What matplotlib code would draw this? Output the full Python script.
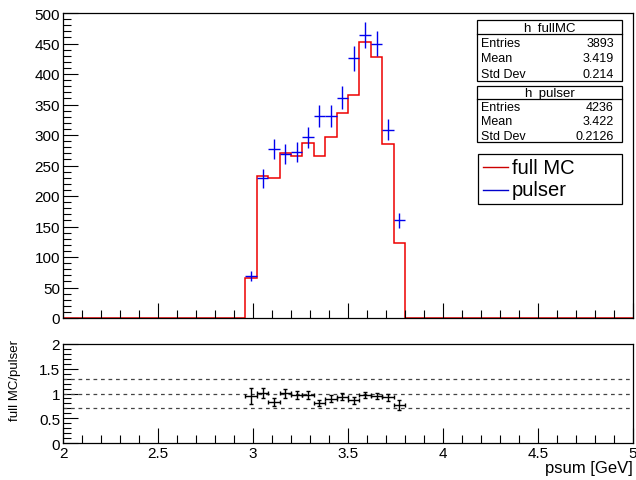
import numpy as np
import matplotlib
matplotlib.use('Agg')
import matplotlib.pyplot as plt
from matplotlib.patches import Rectangle
from matplotlib.lines import Line2D
from matplotlib.ticker import MultipleLocator, FormatStrFormatter

plt.rcParams['font.family'] = ['Liberation Sans', 'DejaVu Sans']

# histogram binning: 50 bins from 2 to 5 GeV, only bins 16..29 filled
edges = np.linspace(2.0, 5.0, 51)
first_bin = 16
full_mc = [65, 232, 229, 270, 265, 287, 266, 296, 336, 366, 452, 428, 285, 123]
pulser = [69, 229, 277, 269, 272, 296, 331, 331, 361, 426, 464, 450, 309, 160]

stats_mc = [("Entries", "3893"), ("Mean", "3.419"), ("Std Dev", "0.214")]
stats_pulser = [("Entries", "4236"), ("Mean", "3.422"), ("Std Dev", "0.2126")]

W, H = 636, 481


def fx(px):
    return px / W


def fy(py):
    return 1 - py / H


full_mc = np.array(full_mc, float)
pulser = np.array(pulser, float)
n = len(full_mc)
mc_all = np.zeros(len(edges) - 1)
mc_all[first_bin:first_bin + n] = full_mc
centers = 0.5 * (edges[first_bin:first_bin + n] + edges[first_bin + 1:first_bin + n + 1])
half_w = 0.5 * (edges[1] - edges[0])

fig = plt.figure(figsize=(W / 100, H / 100), dpi=100)
ax = fig.add_axes([fx(63), fy(319), fx(633) - fx(63), fy(14) - fy(319)])
axr = fig.add_axes([fx(63), fy(444), fx(633) - fx(63), fy(345) - fy(444)])

# main panel
ax.stairs(mc_all, edges, color='#ee0000', lw=1.1, baseline=0)
ax.errorbar(centers, pulser, xerr=half_w, yerr=np.sqrt(pulser), fmt='none',
            ecolor='#0000ee', elinewidth=1.0, capsize=0)
ax.set_xlim(2, 5)
ax.set_ylim(0, 500)
ax.yaxis.set_major_locator(MultipleLocator(50))
ax.yaxis.set_minor_locator(MultipleLocator(10))
ax.xaxis.set_major_locator(MultipleLocator(0.5))
ax.xaxis.set_minor_locator(MultipleLocator(0.1))
ax.tick_params(labelbottom=False)

# ratio panel
ratio = full_mc / pulser
ratio_err = ratio * np.sqrt(1 / full_mc + 1 / pulser)
for yv in (0.7, 1.0, 1.3):
    axr.axhline(yv, color='#444444', lw=0.9, dashes=(3, 3))
axr.errorbar(centers, ratio, xerr=half_w, yerr=ratio_err, fmt='none',
             ecolor='black', elinewidth=1.0, capsize=1.5, capthick=1.0)
axr.set_xlim(2, 5)
axr.set_ylim(0, 2)
axr.yaxis.set_major_locator(MultipleLocator(0.5))
axr.yaxis.set_minor_locator(MultipleLocator(0.1))
axr.xaxis.set_major_locator(MultipleLocator(0.5))
axr.xaxis.set_minor_locator(MultipleLocator(0.1))
axr.xaxis.set_major_formatter(FormatStrFormatter('%g'))
axr.yaxis.set_major_formatter(FormatStrFormatter('%g'))
axr.set_xlabel('psum [GeV]', fontsize=12, loc='right', labelpad=0)
fig.text(fx(15), fy(381), 'full MC/pulser', rotation=90, ha='center', va='center',
         fontsize=9.5)

for a in (ax, axr):
    a.tick_params(which='both', direction='in', top=False, right=False, pad=2,
                  labelsize=11, width=0.8)
    a.tick_params(which='major', length=11)
    a.tick_params(which='minor', length=5.5)
    for s in a.spines.values():
        s.set_linewidth(0.9)


# stats boxes
def stats_box(title, rows, top, div, bottom):
    x0, x1 = 477, 622
    fig.add_artist(Rectangle((fx(x0), fy(bottom)), fx(x1) - fx(x0), fy(top) - fy(bottom),
                             transform=fig.transFigure, facecolor='white',
                             edgecolor='black', lw=0.9))
    fig.add_artist(Line2D([fx(x0), fx(x1)], [fy(div), fy(div)],
                          transform=fig.transFigure, color='black', lw=0.9))
    fig.text(fx((x0 + x1) / 2), fy((top + div) / 2 + 0.5), title, ha='center', va='center',
             fontsize=9.5)
    step = (bottom - div) / len(rows)
    for i, (k, v) in enumerate(rows):
        yy = fy(div + step * (i + 0.55))
        fig.text(fx(481), yy, k, ha='left', va='center', fontsize=9)
        fig.text(fx(614), yy, v, ha='right', va='center', fontsize=9)


stats_box('h_fullMC', stats_mc, 21, 35, 82)
stats_box('h_pulser', stats_pulser, 87, 100, 143)

# legend
fig.add_artist(Rectangle((fx(478), fy(205)), fx(622) - fx(478), fy(155) - fy(205),
                         transform=fig.transFigure, facecolor='white',
                         edgecolor='black', lw=0.9))
for label, col, yy in (('full MC', '#cc0000', 168), ('pulser', '#0000cc', 191)):
    fig.add_artist(Line2D([fx(483), fx(508)], [fy(yy), fy(yy)],
                          transform=fig.transFigure, color=col, lw=1.0))
    fig.text(fx(512), fy(yy), label, ha='left', va='center', fontsize=14.5)

fig.savefig('out.png', dpi=100)
